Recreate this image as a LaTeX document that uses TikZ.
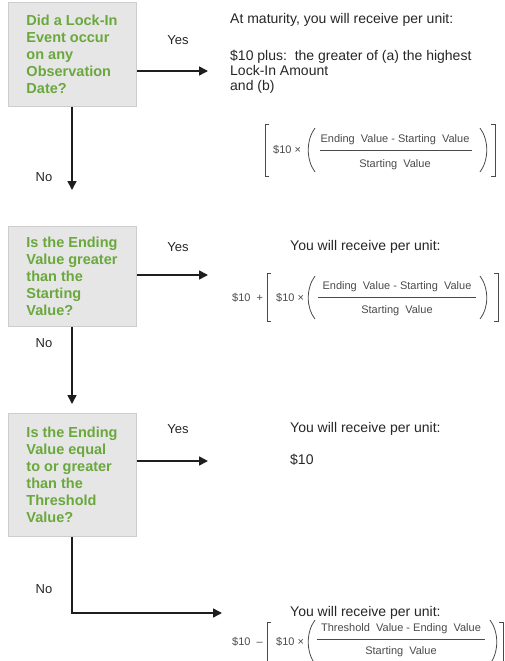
\documentclass[tikz,border=0pt]{standalone}
\usepackage{fontspec}
\setmainfont{Liberation Sans}
\usetikzlibrary{arrows.meta}
\definecolor{qgreen}{HTML}{6AA83C}
\definecolor{boxfill}{HTML}{E6E6E6}
\definecolor{boxline}{HTML}{CDCDCD}
\definecolor{txt}{HTML}{262626}
\definecolor{ftxt}{HTML}{4A4A4A}
\definecolor{arrowc}{HTML}{1E1E1E}
\begin{document}
\begin{tikzpicture}[x=1pt,y=-1pt,
  qbox/.style={draw=boxline,fill=boxfill,line width=1pt,minimum width=128pt,align=left,inner sep=0pt,text=qgreen,font=\fontsize{14.5}{17}\selectfont\bfseries},
  arr/.style={draw=arrowc,line width=1.6pt,-{Triangle[length=9pt,width=9pt]}},
  lbl/.style={font=\fontsize{13}{15}\selectfont,text=txt,inner sep=0pt},
  body/.style={font=\fontsize{14}{15}\selectfont,text=txt,inner sep=0pt,anchor=base west},
  bodyw/.style={font=\fontsize{14}{15}\selectfont,text=txt,inner sep=0pt,anchor=west},
  ftext/.style={font=\fontsize{11}{13}\selectfont,text=ftxt,inner sep=0pt},
  delim/.style={draw=ftxt,line width=0.8pt},
  fracline/.style={draw=ftxt,line width=0.7pt}]
\useasboundingbox (0,0) rectangle (504,661);

% decision boxes
\node[qbox,minimum height=103pt] (q1) at (72,54.5) {Did a Lock-In\\Event occur\\on any\\Observation\\Date?};
\node[qbox,minimum height=100pt] (q2) at (72,276) {Is the Ending\\Value greater\\than the\\Starting\\Value?};
\node[qbox,minimum height=123pt] (q3) at (72,474.5) {Is the Ending\\Value equal\\to or greater\\than the\\Threshold\\Value?};

% connectors
\coordinate (t1) at (208,71);
\draw[arr] (q1.east |- t1) -- (t1);
\coordinate (d1) at (72,190);
\draw[arr] (q1.south) -- (d1);
\coordinate (t2) at (208,275);
\draw[arr] (q2.east |- t2) -- (t2);
\coordinate (d2) at (72,404);
\draw[arr] (q2.south) -- (d2);
\coordinate (t3) at (208,461);
\draw[arr] (q3.east |- t3) -- (t3);
\coordinate (t4) at (222,613);
\draw[arr] (q3.south) |- (t4);

% labels
\node[lbl] (y1) at (178,40) {Yes};
\node[lbl] (y2) at (178,247) {Yes};
\node[lbl] (y3) at (178,429) {Yes};
\node[lbl] (n1) at (44,177) {No};
\node[lbl] (n2) at (44,343) {No};
\node[lbl] (n3) at (44,589) {No};

% outcome 1
\node[body] (m1) at (230,24) {At maturity, you will receive per unit:};
\node[body] (m2) at (230,60) {\$10 plus:\ \ the greater of (a) the highest};
\node[body] (m3) at (230,75) {Lock-In Amount};
\node[body] (m4) at (230,90) {and (b)};
\draw[delim] (269,124) -- (265,124) -- (265,176) -- (269,176);
\node[ftext,anchor=west] (f1a) at (273,150) {\$10 ×};
\draw[delim] (315,128) .. controls (306,140) and (306,160) .. (315,172);
\node[ftext] (f1n) at (395,140) {Ending\ \ Value - Starting\ \ Value};
\draw[fracline] (320,150) -- (472,150);
\node[ftext] (f1d) at (395,165) {Starting\ \ Value};
\draw[delim] (480,128) .. controls (489,140) and (489,160) .. (480,172);
\draw[delim] (491,124) -- (495,124) -- (495,176) -- (491,176);

% outcome 2
\node[bodyw] (r2) at (290,247) {You will receive per unit:};
\node[ftext,anchor=west] (f2s) at (232,298) {\$10\ \ +};
\draw[delim] (271,273) -- (267,273) -- (267,321) -- (271,321);
\node[ftext,anchor=west] (f2a) at (276,298) {\$10 ×};
\draw[delim] (315,276) .. controls (306,288) and (306,308) .. (315,319);
\node[ftext] (f2n) at (397,287) {Ending\ \ Value - Starting\ \ Value};
\draw[fracline] (318,297) -- (476,297);
\node[ftext] (f2d) at (397,311) {Starting\ \ Value};
\draw[delim] (480,276) .. controls (489,288) and (489,308) .. (480,319);
\draw[delim] (494,273) -- (498,273) -- (498,321) -- (494,321);

% outcome 3
\node[bodyw] (r3) at (290,429) {You will receive per unit:};
\node[bodyw] (r3b) at (290,460) {\$10};

% outcome 4
\node[bodyw] (r4) at (290,613) {You will receive per unit:};
\node[ftext,anchor=west] (f4s) at (232,642) {\$10\ \ –};
\draw[delim] (271,622) -- (267,622) -- (267,664);
\node[ftext,anchor=west] (f4a) at (276,642) {\$10 ×};
\draw[delim] (315,620) .. controls (306,632) and (306,652) .. (315,664);
\node[ftext] (f4n) at (401,629) {Threshold\ \ Value - Ending\ \ Value};
\draw[fracline] (317,639) -- (485,639);
\node[ftext] (f4d) at (401,652) {Starting\ \ Value};
\draw[delim] (490,620) .. controls (499,632) and (499,652) .. (490,664);
\draw[delim] (499,622) -- (503,622) -- (503,664);
\end{tikzpicture}
\end{document}
